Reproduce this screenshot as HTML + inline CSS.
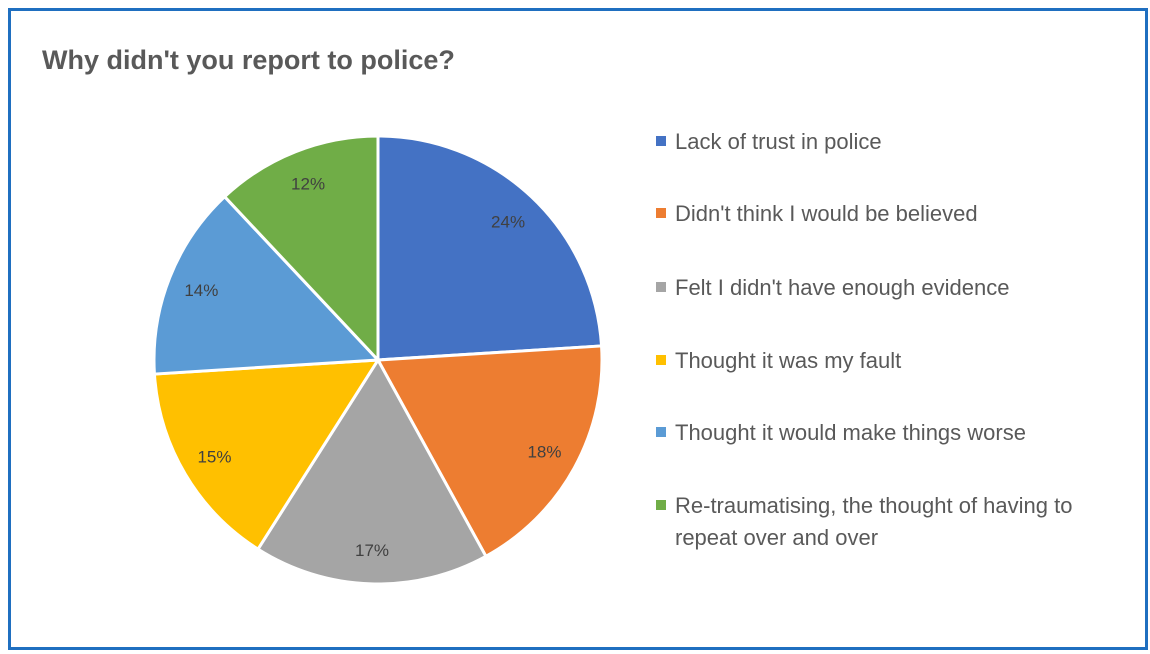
<!DOCTYPE html>
<html><head><meta charset="utf-8"><style>
body{margin:0;background:#fff;width:1150px;height:654px;overflow:hidden;font-family:"Liberation Sans",sans-serif}
#frame{position:absolute;left:8px;top:8px;width:1134px;height:636px;border:3px solid #1f6fc0;box-sizing:content-box}
</style></head><body>
<div id="frame"></div>
<svg width="1150" height="654" style="position:absolute;left:0;top:0">
<text x="42" y="69" font-size="27" font-weight="bold" fill="#595959" font-family="Liberation Sans, sans-serif">Why didn't you report to police?</text>
<g id="slices"></g><g id="labels"></g><g id="legend"></g>
</svg>
<script>
const categories=["Lack of trust in police","Didn't think I would be believed","Felt I didn't have enough evidence","Thought it was my fault","Thought it would make things worse","Re-traumatising, the thought of having to|repeat over and over"];
const values=[24,18,17,15,14,12];
const labels=["24%","18%","17%","15%","14%","12%"];
const colors=["#4472c4","#ed7d31","#a5a5a5","#ffc000","#5b9bd5","#70ad47"];
const cx=378,cy=360,R=224,LR=190;
const ns="http://www.w3.org/2000/svg";
const total=values.reduce((a,b)=>a+b,0);
function pt(a,r){return [cx+r*Math.sin(a),cy-r*Math.cos(a)];}
let a0=0;
const sg=document.getElementById('slices'),lg=document.getElementById('labels'),leg=document.getElementById('legend');
values.forEach((v,i)=>{
 const a1=a0+v/total*2*Math.PI;
 const p0=pt(a0,R),p1=pt(a1,R);
 const p=document.createElementNS(ns,'path');
 p.setAttribute('d',`M${cx},${cy}L${p0[0]},${p0[1]}A${R},${R} 0 ${a1-a0>Math.PI?1:0} 1 ${p1[0]},${p1[1]}Z`);
 p.setAttribute('fill',colors[i]);p.setAttribute('stroke','#fff');p.setAttribute('stroke-width','3');
 
 
 sg.appendChild(p);
 const m=pt((a0+a1)/2,LR);
 const t=document.createElementNS(ns,'text');
 t.setAttribute('x',m[0]);t.setAttribute('y',m[1]+6);t.setAttribute('text-anchor','middle');
 t.setAttribute('font-size','17');t.setAttribute('fill','#404040');t.textContent=labels[i];
 
 
 lg.appendChild(t);
 a0=a1;
});
const ly=[141,213,287,360,432,505];
categories.forEach((c,i)=>{
 const g=document.createElementNS(ns,'g');
 
 
 const r=document.createElementNS(ns,'rect');
 r.setAttribute('x',656);r.setAttribute('y',ly[i]-5);r.setAttribute('width',10);r.setAttribute('height',10);r.setAttribute('fill',colors[i]);
 g.appendChild(r);
 c.split('|').forEach((line,j)=>{
  const t=document.createElementNS(ns,'text');
  t.setAttribute('x',675);t.setAttribute('y',ly[i]+8+j*32);t.setAttribute('font-size','22');t.setAttribute('fill','#595959');
  t.textContent=line;g.appendChild(t);
 });
 leg.appendChild(g);
});
</script>
</body></html>
